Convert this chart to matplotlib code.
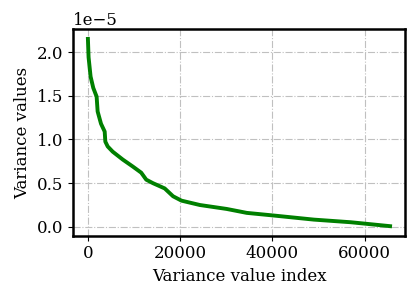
import matplotlib
matplotlib.use("Agg")
import matplotlib.pyplot as plt

idx = [0, 145, 580, 1160, 1890, 2110, 2840, 3640, 3780, 4290, 5380, 7560, 9740,
       11560, 12650, 14100, 16650, 18470, 20290, 24290, 30100, 34460, 40270,
       49000, 57000, 65536]
var_e5 = [2.15, 1.94, 1.72, 1.59, 1.49, 1.32, 1.18, 1.09, 0.975, 0.92, 0.86, 0.77,
          0.69, 0.62, 0.54, 0.50, 0.44, 0.35, 0.30, 0.25, 0.205, 0.16, 0.13,
          0.083, 0.053, 0.008]
values = [v * 1e-5 for v in var_e5]

plt.rcParams['font.family'] = 'DejaVu Serif'
plt.rcParams['font.size'] = 12

fig = plt.figure(figsize=(4.16, 2.99), dpi=100)
ax = fig.add_axes([0.175, 0.212, 0.799, 0.690])
ax.plot(idx, values, color='green', linewidth=2.8)
ax.grid(True, linestyle='-.', color='#c0c0c0', linewidth=0.8)
ax.set_xlabel('Variance value index')
ax.set_ylabel('Variance values')
ax.set_xticks([0, 20000, 40000, 60000])
ax.set_yticks([0, 0.5e-5, 1.0e-5, 1.5e-5, 2.0e-5])
ax.set_ylim(-0.1e-5, 2.26e-5)
for s in ax.spines.values():
    s.set_linewidth(1.8)
fig.savefig('out.png', dpi=100)
